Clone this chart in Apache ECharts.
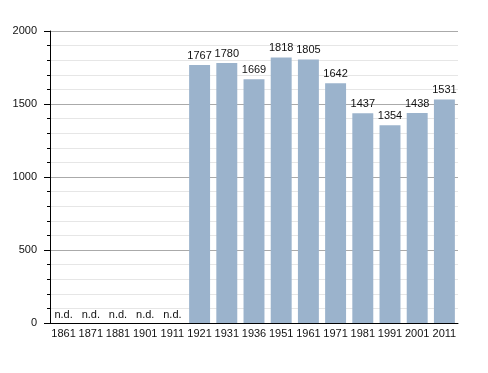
<!DOCTYPE html>
<html><head><meta charset="utf-8">
<script src="https://cdn.jsdelivr.net/npm/echarts@6/dist/echarts.min.js"></script>
<style>html,body{margin:0;padding:0;background:#fff}#c{width:488px;height:373px}</style>
</head><body><div id="c"></div>
<script>
const categories = ['1861','1871','1881','1901','1911','1921','1931','1936','1951','1961','1971','1981','1991','2001','2011'];
const values = [null,null,null,null,null,1767,1780,1669,1818,1805,1642,1437,1354,1438,1531];
const yTicks = [0,500,1000,1500,2000];
const noDataLabel = 'n.d.';

const font = 'Liberation Sans, Arial, sans-serif';
const chart = echarts.init(document.getElementById('c'), null, {renderer:'canvas'});
chart.setOption({
  animation:false,
  grid:{left:50,right:30,top:31,bottom:50,containLabel:false},
  xAxis:{type:'category',data:categories,
    axisLine:{lineStyle:{color:'#000',width:1}},
    axisTick:{show:false},
    axisLabel:{color:'#111',fontFamily:font,fontSize:11,margin:5,interval:0}},
  yAxis:{type:'value',min:yTicks[0],max:yTicks[yTicks.length-1],interval:500,
    axisLine:{show:true,lineStyle:{color:'#000',width:1}},
    axisTick:{show:true,length:6,lineStyle:{color:'#000'}},
    minorTick:{show:true,splitNumber:5,length:3,lineStyle:{color:'#000'}},
    splitLine:{lineStyle:{color:'#aaa',width:1}},
    minorSplitLine:{show:true,lineStyle:{color:'#e6e6e6',width:1}},
    axisLabel:{color:'#111',fontFamily:font,fontSize:11,margin:13,formatter:v=>String(v)}},
  series:[{type:'bar',barCategoryGap:'23%',
    itemStyle:{color:'#9bb3cc'},
    label:{show:true,position:'top',distance:4,color:'#111',fontFamily:font,fontSize:11},
    data:values.map(v=>v==null?{value:0,label:{formatter:noDataLabel,distance:3}}:v)}]
});
</script></body></html>
